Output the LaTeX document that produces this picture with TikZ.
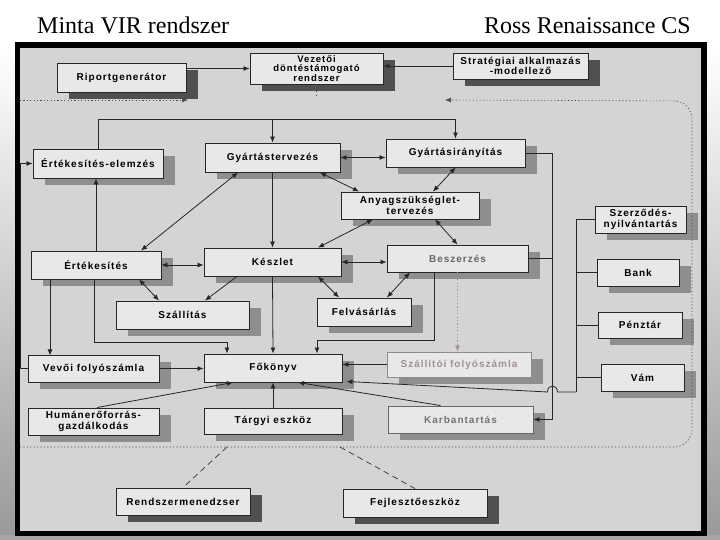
\documentclass[tikz,border=0pt]{standalone}
\usepackage{fontspec}
\setmainfont{Liberation Serif}
\newfontfamily\boxfont[LetterSpace=10, BoldFont={Liberation Sans Bold}]{Liberation Sans}
\usetikzlibrary{arrows.meta,shadows,calc}
\definecolor{paper}{HTML}{D4D4D4}
\definecolor{boxfill}{HTML}{E8E8E8}
\definecolor{shdark}{HTML}{505050}
\definecolor{shmid}{HTML}{8E8E8E}
\definecolor{faint}{HTML}{A09090}
\definecolor{lineclr}{HTML}{262626}
\tikzset{
  box/.style={draw=black!85, line width=0.9pt, fill=boxfill, align=center, inner sep=0pt, text=black,
    font={\boxfont\bfseries\fontsize{10}{10.5}\selectfont}},
  sz/.style 2 args={minimum width=#1pt, minimum height=#2pt},
  shd/.style={drop shadow={shadow xshift=12pt, shadow yshift=-7pt, fill=#1, opacity=1}},
  conn/.style={draw=lineclr, line width=0.8pt},
  arr/.style={-{Latex[length=6pt,width=5pt]}},
  darr/.style={{Latex[length=6pt,width=5pt]}-{Latex[length=6pt,width=5pt]}},
  dotl/.style={draw=black!70, line width=0.6pt, dash pattern=on 1.2pt off 2.2pt},
  dashl/.style={draw=black!80, line width=0.7pt, dash pattern=on 6pt off 4pt},
  titl/.style={font=\fontsize{24}{28}\selectfont, text=black, inner sep=0pt}
}
\begin{document}
\begin{tikzpicture}[x=1pt,y=-1pt]
\useasboundingbox (0,0) rectangle (720,540);
% slide background and photo frame
\fill[white] (0,0) rectangle (720,540);
\shade[top color=white, bottom color=gray!80] (0,47) rectangle (15,540);
\shade[top color=white, bottom color=gray!80] (706,47) rectangle (720,540);
\fill[gray!70] (0,535) rectangle (720,540);
\fill[black] (15,42) rectangle (707,536);
\fill[paper] (20,48) rectangle (701,531);
% titles
\node[titl, anchor=base west] (t1) at (37,34) {Minta VIR rendszer};
\node[titl, anchor=base east] (t2) at (691,34) {Ross Renaissance CS};

% boxes
\node[box, sz={129}{29}, shd=shdark] (riport) at (121.5,77.5) {Riportgenerátor};
\node[box, sz={133}{31}, shd=shdark, font={\boxfont\bfseries\fontsize{9.5}{9.3}\selectfont}] (vez) at (316.5,68.5) {Vezetői\\döntéstámogató\\rendszer};
\node[box, sz={135}{26}, shd=shdark] (strat) at (520.5,66) {Stratégiai alkalmazás\\-modellező};
\node[box, sz={130}{29}, shd=shmid] (ertel) at (98,163.5) {Értékesítés-elemzés};
\node[box, sz={135}{29}, shd=shmid] (gyterv) at (272.5,157.5) {Gyártástervezés};
\node[box, sz={139}{28}, shd=shmid] (gyir) at (455.5,153) {Gyártásirányítás};
\node[box, sz={138}{27}, shd=shmid] (anyag) at (410,205.5) {Anyagszükséglet-\\tervezés};
\node[box, sz={130}{28}, shd=shmid] (ert) at (96,265) {Értékesítés};
\node[box, sz={137}{28}, shd=shmid] (keszlet) at (272.5,262) {Készlet};
\node[box, sz={141}{27}, shd=shmid, text=black!60] (besz) at (457.5,258.5) {Beszerzés};
\node[box, sz={133}{28}, shd=shmid] (szall) at (182.5,315) {Szállítás};
\node[box, sz={94}{28}, shd=shmid] (folyv) at (364,312) {Felvásárlás};
\node[box, sz={91}{27}, shd=shmid] (szerz) at (640.5,219.5) {Szerződés-\\nyilvántartás};
\node[box, sz={82}{27}, shd=shmid] (bank) at (638,272.5) {Bank};
\node[box, sz={84}{26}, shd=shmid] (penz) at (640,325) {Pénztár};
\node[box, sz={83}{27}, shd=shmid] (vam) at (642.5,377.5) {Vám};
\node[box, sz={144}{25}, shd=shmid, draw=black!45, text=faint] (szallfoly) at (459,364.5) {Szállítói folyószámla};
\node[box, sz={145}{27}, shd=shmid, draw=black!60, text=black!55] (karb) at (460.5,419.5) {Karbantartás};
\node[box, sz={131}{27}, shd=shmid] (vevo) at (93.5,368.5) {Vevői folyószámla};
\node[box, sz={138}{28}, shd=shmid] (fok) at (273,368) {Főkönyv};
\node[box, sz={131}{27}, shd=shmid] (human) at (93.5,421.5) {Humánerőforrás-\\gazdálkodás};
\node[box, sz={138}{26}, shd=shmid] (targy) at (273,421) {Tárgyi eszköz};
\node[box, sz={134}{27}, shd=shdark] (rendsz) at (183,501.5) {Rendszermenedzser};
\node[box, sz={144}{28}, shd=shdark] (fejl) at (415,503) {Fejlesztőeszköz};

% top connectors
\draw[conn,arr] (vez.west -| riport.east) -- (vez.west);
\draw[conn,arr] (strat.west) -- (strat.west -| vez.east);

% dotted system boundary
\coordinate (dl) at (20,100);
\coordinate (dla) at (188,100);
\coordinate (dra) at (445,100);
\coordinate (bl) at (20,447);
\draw[dotl,arr] (dl) -- (dla);
\draw[dotl] (vez.south) -- ++(0,13);
\draw[dotl,arr,rounded corners=18pt] (bl) -- (692,447) -- (692,101) -- (dra);

% bus above production
\coordinate (busR) at ($(gyir.north)+(0,-19)$);
\draw[conn,arr] (ertel.north) |- (busR) -- (gyir.north);
\draw[conn,arr] (gyterv.north |- busR) -- (gyterv.north);

% left route
\draw[conn,arr] (vevo.west) -- ++(-7,0) |- (ertel.west);

% production / inventory links
\draw[conn,darr] (gyterv.east) -- (gyterv.east -| gyir.west);
\draw[conn,darr] ([xshift=47.5pt]gyterv.south) -- ([xshift=-51pt]anyag.north);
\draw[conn,darr] (gyir.south) -- ([xshift=23pt]anyag.north);
\draw[conn,darr] ([xshift=-34.5pt]gyterv.south) -- ([xshift=45pt]ert.north);
\draw[conn,arr] (gyterv.south) -- (keszlet.north);
\draw[conn,arr] (ert.north) -- (ert.north |- ertel.south);
\draw[conn,darr] ([xshift=-37pt]anyag.south) -- ([xshift=45.5pt]keszlet.north);
\draw[conn,darr] ([xshift=25pt]anyag.south) -- (besz.north);
\draw[conn,darr] (ert.east) -- (ert.east -| keszlet.west);
\draw[conn,darr] (keszlet.east) -- (keszlet.east -| besz.west);
\draw[conn,arr] ([xshift=-35.5pt]keszlet.south) -- ([xshift=22.5pt]szall.north);
\draw[conn,darr] ([xshift=43pt]ert.south) -- ([xshift=-23.5pt]szall.north);
\draw[conn,darr] ([xshift=45.5pt]keszlet.south) -- ([xshift=-25pt]folyv.north);
\draw[conn,darr] ([xshift=-47.5pt]besz.south) -- ([xshift=23pt]folyv.north);

% into the ledger
\draw[conn,arr] (keszlet.south) -- (fok.north);
\draw[conn,arr] ([xshift=-46pt]ert.south) -- ++(0,76);
\draw[conn,arr] ([xshift=-2pt]ert.south) -- ++(0,63) -| ([xshift=-46pt]fok.north);
\draw[conn,arr] ([xshift=-23.5pt]besz.south) -- ++(0,68) -| ([xshift=44pt]fok.north);
\draw[dotl,draw=faint,line width=0.8pt,arr] (besz.south) -- (besz.south |- szallfoly.north);
\draw[conn,arr] (szallfoly.west) -- (szallfoly.west -| fok.east);
\draw[conn,arr] (vevo.east) -- (vevo.east -| fok.west);
\draw[conn,arr] ([xshift=3.5pt]human.north) -- ([xshift=-40pt]fok.south);
\draw[conn,arr] (targy.north) -- (fok.south);
\draw[conn,arr] ([xshift=-20pt]karb.north) -- ([xshift=25pt]fok.south);

% right side
\path (gyir.east) ++(27,0) coordinate (gv);
\draw[conn,arr] (gyir.east) -- (gv) |- (karb.east);
\draw[conn] (besz.east) -- (besz.east -| gv);
\coordinate (rb) at (576,392);
\draw[conn] (szerz.west) -| (rb);
\draw[conn] (bank.west) -- (bank.west -| rb);
\draw[conn] (penz.west) -- (penz.west -| rb);
\draw[conn] (vam.west) -- (vam.west -| rb);
\draw[conn,arr] (rb) -- ($(gv|-rb)+(5,0)$) .. controls ($(gv|-rb)+(5,-8)$) and ($(gv|-rb)+(-5,-8)$) .. ($(gv|-rb)+(-5,0)$) -- ([xshift=4pt,yshift=1pt]fok.south east);

% development tools
\coordinate (d1) at (227,447);
\coordinate (d2) at (340,447);
\draw[dashl] (d1) -- (rendsz.north);
\draw[dashl] (d2) -- (fejl.north);
\end{tikzpicture}
\end{document}
